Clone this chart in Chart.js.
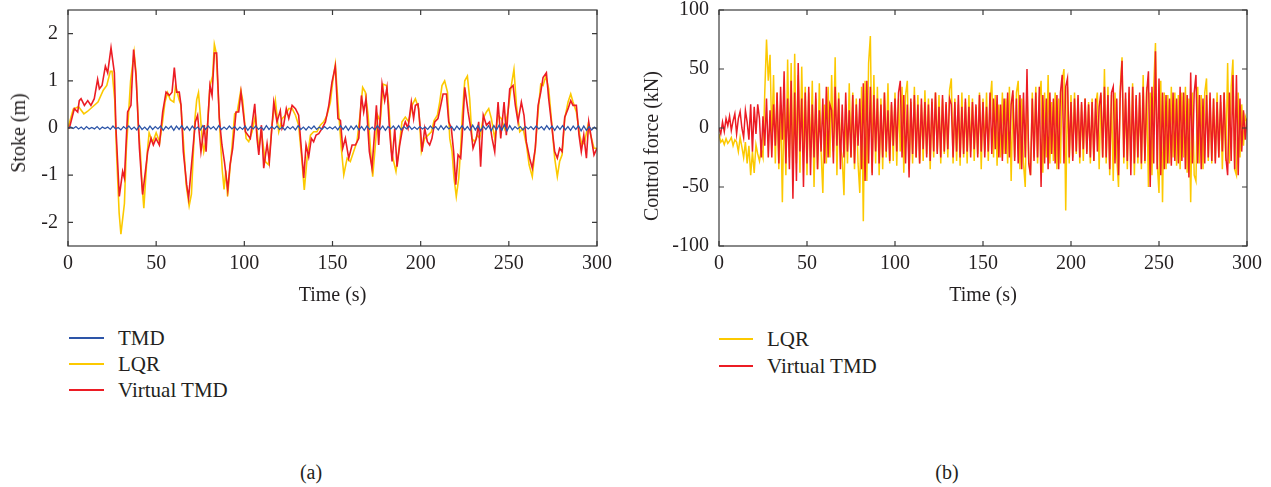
<!DOCTYPE html>
<html>
<head>
<meta charset="utf-8">
<script src="https://cdn.jsdelivr.net/npm/chart.js@4.4.1/dist/chart.umd.min.js"></script>
<style>
  body { margin: 0; width: 1271px; height: 487px; background: #fff; position: relative; overflow: hidden;
         font-family: "Liberation Serif", "Times New Roman", serif; color: #231f20; }
  canvas { position: absolute; top: 0; }
  #strokeChart { left: 0; }
  #forceChart { left: 630px; }
  .row { position: absolute; height: 26px; line-height: 26px; font-size: 21px; white-space: nowrap; }
  .row .sw { position: absolute; top: 12px; height: 2px; }
  .cap { position: absolute; top: 459px; font-size: 20px; line-height: 26px; transform: translateX(-50%); }
  .ytitle { position: absolute; font-size: 20px; white-space: nowrap; line-height: 24px;
            transform: translate(-50%, -50%) rotate(-90deg); }
</style>
</head>
<body>
<canvas id="strokeChart" width="625" height="310"></canvas>
<canvas id="forceChart" width="641" height="310"></canvas>
<div id="legends"></div>
<div class="ytitle" style="left:18px;top:133px">Stoke (m)</div>
<div class="ytitle" style="left:651px;top:146px">Control force (kN)</div>
<div class="cap" style="left:311px">(a)</div>
<div class="cap" style="left:947px">(b)</div>
<script>
// axes
const timeTicks = [0, 50, 100, 150, 200, 250, 300];
const strokeTicks = [-2, -1, 0, 1, 2];
const forceTicks = [-100, -50, 0, 50, 100];

// stroke (m): [time s, value]
const lqrStroke = [[0,0],[3,0.4],[6,0.45],[9,0.3],[11,0.35],[14,0.45],[17,0.55],[20,0.8],[22,0.9],[24,1.2],[25,1.2],
  [26.5,0.6],[27.5,-0.5],[29,-1.8],[30,-2.25],[32,-1.6],[33,-0.5],[34.5,0.4],[35.5,1],[37.5,1.6],[38.5,1.2],[40,0],
  [41,-0.5],[42,-1.2],[43,-1.7],[44,-1.1],[45,-0.5],[46,-0.1],[48,-0.3],[50,-0.1],[52,-0.3],[53.5,0.1],[55,0.55],
  [56.5,0.75],[58,0.6],[60,0.55],[61,0.9],[63,0.6],[64,0.5],[65.5,-0.3],[67,-1.2],[68.7,-1.65],[70,-1.4],[71,-0.6],
  [72,0.2],[73,0.6],[74,0.75],[75,0.3],[76,-0.2],[77,-0.5],[78,-0.3],[79,0],[80.5,0.9],[82,1.1],[83,1.77],[84,1.6],
  [85.5,0.5],[86.5,-0.3],[87.5,-0.9],[88.5,-1.3],[89.5,-0.9],[90.5,-1.45],[92,-0.8],[93,-0.4],[94.5,0.3],[96,0.35],
  [98,0.8],[99,0.6],[101,-0.22],[102.5,-0.29],[104.4,-0.08],[106.3,0.27],[108.2,-0.43],[109.7,-0.08],[111.9,-0.71],
  [113.8,-0.78],[115.7,0.06],[117.6,0.58],[119.5,-0.08],[121.4,0.2],[123.3,0.27],[125.2,0.41],[127.1,0.41],[129,0.27],
  [130.8,0.06],[132.7,-0.71],[134,-1.31],[135.6,-0.64],[137.5,-0.15],[139.3,-0.08],[141.2,-0.08],[143.1,0.06],[145,0.13],
  [146.9,0.27],[148.8,0.55],[150.1,0.97],[151.6,1.35],[153.5,0.34],[155,-0.43],[156.4,-0.99],[158.3,-0.64],[160.1,-0.71],
  [162,-0.5],[163.9,-0.29],[165.8,0.34],[167.1,0.86],[168.6,0.76],[170.2,0.27],[171.5,-0.43],[172.8,-1.03],[174.3,-0.36],
  [175.6,0.27],[177.1,0.13],[178.7,0.93],[180.6,0.9],[181.9,0.48],[183.4,-0.5],[184.7,-0.71],[186,-0.92],[187.5,-0.5],
  [189.4,0.13],[191.3,0.23],[193.2,0.13],[195.1,0.48],[197,0.62],[198.9,0.41],[200.4,-0.5],[202.3,-0.22],[204.2,-0.15],
  [206.1,-0.08],[207.6,0.16],[209.5,0.27],[210.8,0.55],[212.1,0.9],[213.6,1],[215.2,0.76],[216.5,-0.22],[217.8,-0.5],
  [218.9,-1.06],[220.2,-1.45],[221.6,-1.06],[222.7,-0.43],[223.6,0.27],[225,1],[226.5,1.1],[227.8,0.62],[229.1,-0.22],
  [230.6,-0.29],[232.1,-0.15],[233.5,-0.22],[235.4,0.2],[237.3,0.34],[238.6,0.41],[240.1,0.2],[242,-0.22],[243.9,0.27],
  [245.8,0.2],[247.6,-0.01],[249.5,0.34],[251.4,0.9],[252.9,1.24],[254.3,0.48],[256.2,-0.08],[258.1,-0.01],[260,-0.36],
  [261.5,-0.78],[263.3,-1.03],[265,-0.43],[266.6,0.34],[268.1,0.93],[269.4,0.9],[271,1.1],[272.6,0.83],[274.1,0.2],
  [276,-0.64],[277.5,-1.03],[278.8,-0.71],[280.2,-0.57],[281.7,0.2],[283.6,0.55],[285.1,0.72],[286.4,0.55],[288.3,0.34],
  [290.2,-0.15],[291.5,-0.36],[293,-0.29],[294.9,0.06],[296.4,-0.15],[298.3,-0.43],[300,-0.43]];

const vtmdStroke = [[0,0],[0.8,0],[3.6,0.41],[5.5,0.34],[6.4,0.58],[7.4,0.62],[9.3,0.48],[11.2,0.58],[13,0.48],[14.9,0.62],
  [16.8,1.03],[17.8,0.83],[19.3,0.9],[21.2,1.31],[22.5,1.17],[24.4,1.7],[26.3,1.17],[27.2,-0.01],[29.1,-1.45],[31,-0.92],
  [32,-1.06],[33.8,0.34],[35.7,0.48],[37.2,1.66],[38.6,1.1],[40.5,-0.43],[42.3,-1.41],[43.9,-0.92],[45.2,-0.5],[47.1,-0.22],
  [48.4,-0.36],[49.9,-0.22],[51.8,-0.36],[53.7,0.34],[55.6,0.76],[57.5,0.69],[59,0.76],[60.3,1.28],[61.6,0.76],[63.1,0.76],
  [64.1,0.48],[65.4,-0.5],[67.3,-1.2],[68.4,-1.48],[70.7,-0.5],[72.2,0.13],[73.5,0.27],[75.4,-0.5],[77.3,0.06],[78.3,-0.5],
  [80.5,0.9],[81.7,0.69],[83,1.59],[84.3,1.59],[85.8,0.2],[87.3,-0.36],[88.7,-0.71],[90.6,-1.31],[91.9,-0.78],[93.4,-0.43],
  [95.3,0.34],[96.8,0.34],[98.1,0.76],[100.6,-0.08],[103.4,-0.22],[105.9,0.51],[107.2,-0.22],[108.2,-0.57],[109.7,0.06],
  [111,-0.85],[112.9,-0.33],[114.2,-0.71],[116.7,0.55],[118.5,0.13],[120.4,0.37],[121.4,-0.01],[122.3,0.06],[123.8,0.41],
  [125.2,0.2],[127.1,0.48],[129,0.41],[130.8,0.27],[132.3,-0.43],[133.7,-1.06],[135,-0.36],[136.5,-0.61],[138,-0.22],
  [139.3,-0.29],[140.7,-0.15],[142.2,-0.12],[144.1,-0.01],[146,0.13],[147.9,0.48],[149.7,0.97],[151.6,1.31],[153.1,0.2],
  [154.5,0.16],[155.8,-0.43],[157.3,-0.22],[159.2,-0.64],[161.1,-0.36],[163,-0.36],[164.9,-0.22],[166.4,0.69],[167.7,0.34],
  [169,0.62],[170.9,-0.5],[172.4,-0.85],[173.9,-0.08],[174.9,0.48],[176.2,-0.36],[178.1,0.93],[179.6,0.58],[180.9,0.86],
  [182.4,-0.08],[183.8,-0.71],[185.3,-0.01],[186.6,-0.82],[188.1,-0.36],[189.4,-0.08],[191.3,0.13],[192.8,-0.01],
  [194.7,0.55],[196,0.2],[197,0.48],[198.5,0.51],[200,-0.08],[200.8,-0.5],[202.3,-0.01],[203.8,-0.29],[205.1,-0.36],
  [206.4,-0.22],[208,0.13],[209.8,0.2],[211.4,0.48],[212.7,0.72],[214.6,0.72],[215.9,0.13],[217.4,-0.01],[218.7,-0.5],
  [219.9,-1.2],[221.2,-0.57],[222.7,-0.64],[223.6,-0.15],[225,0.86],[226.9,0.34],[228.4,-0.01],[229.7,-0.43],[231.6,-0.22],
  [232.9,0.13],[234,-0.82],[235.5,0.27],[237.3,0.06],[239.1,0.13],[240.5,-0.22],[242,-0.5],[243.9,0.55],[245.4,-0.22],
  [247.3,0.55],[248.6,-0.15],[250.5,0.83],[252.4,0.9],[253.7,0.48],[255.2,0.13],[257.1,0.55],[258.6,0.27],[259.9,-0.29],
  [261.8,-0.64],[263.3,-0.85],[265,-0.43],[266.6,0.48],[268.1,0.76],[269.4,1.07],[271.3,1.17],[272.6,0.62],[274.1,0.13],
  [276,-0.5],[277.5,-0.64],[278.8,-0.43],[280.2,-0.5],[281.7,0.23],[283.6,0.41],[285.1,0.58],[286.4,0.48],[288.3,0.48],
  [289.8,-0.15],[291.1,-0.5],[292.5,-0.15],[294,-0.64],[295.3,0.13],[296.8,-0.22],[298.3,-0.57],[300,-0.43]];

// passive TMD stroke, one value every 1.5 s
const tmdStep = 1.5;
const tmdStroke = [
  0, 0.02, -0.01, 0.03, -0.02, 0.02, -0.03, 0.03, -0.02, 0.01,
  -0.02, 0.03, -0.03, 0.02, -0.01, 0.02, -0.03, 0.04, -0.02, 0.01,
  -0.04, 0.03, -0.02, 0.04, -0.03, 0.02, -0.04, 0.05, -0.03, 0.02,
  -0.04, 0.04, -0.03, 0.03, -0.02, 0.04, -0.05, 0.03, -0.02, 0.04,
  -0.05, 0.04, -0.03, 0.05, -0.04, 0.03, -0.05, 0.04, -0.03, 0.02,
  -0.04, 0.05, -0.03, 0.04, -0.02, 0.03, -0.04, 0.05, -0.03, 0.02,
  -0.03, 0.04, -0.02, 0.03, -0.04, 0.02, -0.03, 0.04, -0.05, 0.03,
  -0.02, 0.04, -0.03, 0.02, -0.04, 0.05, -0.03, 0.03, -0.02, 0.04,
  -0.03, 0.02, -0.04, 0.03, -0.02, 0.03, -0.04, 0.05, -0.03, 0.02,
  -0.04, 0.03, -0.02, 0.04, -0.03, 0.02, -0.03, 0.03, -0.02, 0.02,
  -0.02, 0.03, -0.04, 0.05, -0.03, 0.04, -0.05, 0.04, -0.03, 0.05,
  -0.04, 0.03, -0.05, 0.04, -0.03, 0.02, -0.04, 0.05, -0.03, 0.04,
  -0.05, 0.03, -0.02, 0.04, -0.03, 0.05, -0.04, 0.03, -0.02, 0.04,
  -0.03, 0.02, -0.03, 0.03, -0.02, 0.02, -0.03, 0.04, -0.02, 0.03,
  -0.04, 0.05, -0.03, 0.04, -0.02, 0.03, -0.05, 0.04, -0.03, 0.05,
  -0.04, 0.03, -0.05, 0.06, -0.04, 0.05, -0.06, 0.04, -0.03, 0.05,
  -0.06, 0.05, -0.04, 0.06, -0.05, 0.07, -0.06, 0.05, -0.04, 0.03,
  -0.02, 0.03, -0.04, 0.03, -0.02, 0.03, -0.03, 0.04, -0.02, 0.03,
  -0.04, 0.05, -0.03, 0.04, -0.05, 0.04, -0.03, 0.05, -0.04, 0.03,
  -0.05, 0.04, -0.03, 0.05, -0.06, 0.04, -0.05, 0.03, -0.04, 0.02,
  -0.03];

// control force (kN), one value per second, panel (b)
const forceStep = 1;
const lqrForce = [
  -5, -12, -10, -14, -9, -13, -11, -8, -15, -10,
  -12, -20, -8, -16, -25, -12, -30, -15, -40, -20,
  -38, -14, -22, -28, -18, -25, 30, 75, 40, 62,
  -10, 45, -30, 30, -35, 20, -63, 25, -40, 58,
  -25, 55, -45, 63, -30, 45, -38, 52, -20, 35,
  -40, 30, -25, 40, -50, 25, -35, 38, -20, -55,
  20, -30, 35, -25, 45, -20, 60, -40, 30, -15,
  -25, -57, 20, -30, 38, -25, 30, -35, 25, -30,
  -55, 35, -79, 40, -45, 55, 78, -38, 45, -30,
  35, -40, 25, -35, 30, -25, 38, -30, 20, -28,
  30, -32, 25, -20, 35, -38, 28, 40, -35, 22,
  -30, 35, -25, 28, -30, 20, -28, 32, -22, 25,
  -35, 22, -25, 30, -20, 28, -30, 25, -22, 20,
  -25, 32, 42, -30, 25, -28, 20, -32, 30, -25,
  22, -30, 28, -20, 25, -28, 18, -22, 30, -35,
  25, -20, 30, -28, 22, 40, -25, 28, -32, 20,
  -25, 30, -22, 25, -30, 35, -45, 28, -25, 30,
  40, -35, 25, -30, -50, 38, -28, -40, 30, -25,
  35, -30, 25, 40, -38, 30, -25, 45, -30, 22,
  -28, 30, -35, 25, -30, 40, 50, -70, 35, -30,
  28, -25, 30, -22, 25, -30, 20, -28, 25, -20,
  22, -30, 25, -28, 20, 30, -35, 28, -25, 50,
  -30, 35, -40, 28, -45, 30, -25, -50, 35, 60,
  -30, 25, -35, 30, -28, 38, -40, 25, -30, 28,
  -35, 45, -30, 35, -50, 30, -40, 35, 72, -30,
  -55, 40, -63, 30, -35, 28, -30, 35, -25, 30,
  -32, 28, -35, 30, -25, 35, -38, 25, -63, 30,
  -40, -45, 35, -30, 28, -35, 30, 42, -28, 25,
  -30, 25, -28, 30, -25, 22, -35, 30, -28, 55,
  -30, 35, 58, -35, -40, 30, -25, 20, -15, 10,
  5];
const vtmdForce = [
  0, -5, 5, -3, 8, 2, 10, -2, 6, 12,
  -5, 8, 14, 0, -8, 15, 5, -10, 20, -20,
  18, -5, 20, 8, -25, 10, -15, 25, -25, 15,
  -25, 20, -15, 30, -30, 35, -10, 48, -30, 25,
  -35, 40, -60, 30, -45, 55, -20, 25, -50, 30,
  -30, 35, -40, 20, -25, 30, -35, 15, -20, 25,
  -30, 35, -25, 20, 15, -30, 35, -15, 25, -35,
  20, -25, 30, -20, 15, -25, 28, -30, 20, -15,
  25, -35, 38, -45, 40, -30, 35, -40, 28, -20,
  25, -30, 20, -25, 30, -20, 15, -28, 22, -15,
  25, -20, 30, 40, -25, 28, -30, 20, -42, 25,
  -22, 28, -25, 20, -30, 25, -18, 22, -25, 20,
  -28, 25, -20, 30, -22, 18, -25, 28, -20, 22,
  -18, 25, 20, -25, 22, -20, 28, -25, 18, -22,
  25, -20, 18, -25, 22, -18, 20, -25, 28, -20,
  22, -25, 18, -20, 30, -22, 25, -18, 28, -25,
  20, -28, 25, -22, 30, -25, 20, 32, -28, 25,
  -30, 28, -35, 30, -25, 50, -30, -40, 25, -28,
  30, -25, 35, -50, 28, -30, 25, -35, 30, -22,
  25, -30, 28, -35, 30, 45, -30, 35, 42, -25,
  22, -28, 25, -20, 28, -25, 22, -18, 25, -22,
  20, -25, 22, -28, 25, -20, 18, 30, -25, 35,
  -25, 28, -35, 30, 35, -30, 25, -40, 30, 57,
  -25, 30, -28, 35, -40, 35, -30, 28, -25, 30,
  -30, 35, -28, 30, 48, -50, 35, -30, 65, -35,
  42, -40, 30, -35, 28, -30, 25, -32, 30, -28,
  25, -30, 35, -28, 30, -35, 28, -42, 47, -30,
  30, 45, -30, 28, -35, 25, -30, 28, -25, 30,
  -28, 25, -30, 22, -25, 28, -20, 30, -25, -40,
  30, -28, 45, -35, 45, -40, 25, -20, 15, -10,
  8];

const BLUE = '#2d55a8', YELLOW = '#fcc900', RED = '#ec1c24';
const FONT = '"Liberation Serif", "Times New Roman", serif';
const INK = '#231f20';

function pairs(list) { return list.map(([x, y]) => ({ x, y })); }
function stepped(list, step) { return list.map((y, i) => ({ x: i * step, y })); }

// box around the plot with inward tick marks on all four sides
const boxTicks = {
  id: 'boxTicks',
  afterDraw(chart) {
    const { ctx, chartArea: a, scales: { x, y } } = chart;
    ctx.save();
    ctx.strokeStyle = '#3a3a3a';
    ctx.lineWidth = 1.2;
    ctx.strokeRect(a.left, a.top, a.right - a.left, a.bottom - a.top);
    ctx.beginPath();
    x.ticks.forEach(t => {
      const p = x.getPixelForValue(t.value);
      ctx.moveTo(p, a.bottom); ctx.lineTo(p, a.bottom - 5);
      ctx.moveTo(p, a.top); ctx.lineTo(p, a.top + 5);
    });
    y.ticks.forEach(t => {
      const p = y.getPixelForValue(t.value);
      ctx.moveTo(a.left, p); ctx.lineTo(a.left + 5, p);
      ctx.moveTo(a.right, p); ctx.lineTo(a.right - 5, p);
    });
    ctx.stroke();
    ctx.restore();
  }
};

function makeChart(id, datasets, yTicks, yMin, yMax, yWidth, padRight) {
  return new Chart(document.getElementById(id), {
    type: 'line',
    data: { datasets },
    plugins: [boxTicks],
    options: {
      responsive: false,
      animation: false,
      events: [],
      layout: { padding: { top: 10, right: padRight, bottom: 0, left: 0 } },
      plugins: { legend: { display: false }, tooltip: { enabled: false } },
      scales: {
        x: {
          type: 'linear', min: 0, max: 300,
          afterBuildTicks: s => { s.ticks = timeTicks.map(v => ({ value: v })); },
          afterFit: s => { s.height = 64; s.paddingLeft = 0; s.paddingRight = 0; },
          grid: { display: false, drawTicks: false },
          border: { display: false },
          ticks: { padding: 6, color: INK, font: { family: FONT, size: 20 }, maxRotation: 0 },
          title: { display: true, text: 'Time (s)', color: INK, font: { family: FONT, size: 20 }, padding: { top: 0, bottom: 2 } }
        },
        y: {
          min: yMin, max: yMax,
          afterBuildTicks: s => { s.ticks = yTicks.map(v => ({ value: v })); },
          afterFit: s => { s.width = yWidth; s.paddingTop = 0; s.paddingBottom = 0; },
          grid: { display: false, drawTicks: false },
          border: { display: false },
          ticks: { padding: 10, color: INK, font: { family: FONT, size: 20 } }
        }
      }
    }
  });
}

function line(label, data, color, width, order) {
  return { label, data, borderColor: color, backgroundColor: color, borderWidth: width,
           pointRadius: 0, tension: 0, order };
}

makeChart('strokeChart', [
  line('TMD', stepped(tmdStroke, tmdStep), BLUE, 1.3, 0),
  line('LQR', pairs(lqrStroke), YELLOW, 1.6, 2),
  line('Virtual TMD', pairs(vtmdStroke), RED, 1.6, 1)
], strokeTicks, -2.5, 2.5, 68, 28);

makeChart('forceChart', [
  line('LQR', stepped(lqrForce, forceStep), YELLOW, 1.5, 2),
  line('Virtual TMD', stepped(vtmdForce, forceStep), RED, 1.5, 1)
], forceTicks, -100, 100, 89, 24);

// legends below each panel
const legendRows = [
  { x: 69, w: 35, tx: 118, y: 325, label: 'TMD', color: BLUE },
  { x: 69, w: 35, tx: 118, y: 351, label: 'LQR', color: YELLOW },
  { x: 69, w: 35, tx: 118, y: 377, label: 'Virtual TMD', color: RED },
  { x: 719, w: 34, tx: 767, y: 326, label: 'LQR', color: YELLOW },
  { x: 719, w: 34, tx: 767, y: 353, label: 'Virtual TMD', color: RED }
];
const box = document.getElementById('legends');
legendRows.forEach(r => {
  const row = document.createElement('div');
  row.className = 'row';
  row.style.left = r.x + 'px';
  row.style.top = r.y + 'px';
  row.style.width = (r.tx - r.x + 140) + 'px';
  row.innerHTML = '<span class="sw" style="left:0;width:' + r.w + 'px;background:' + r.color + '"></span>' +
    '<span style="position:absolute;left:' + (r.tx - r.x) + 'px">' + r.label + '</span>';
  box.appendChild(row);
});
</script>
</body>
</html>
